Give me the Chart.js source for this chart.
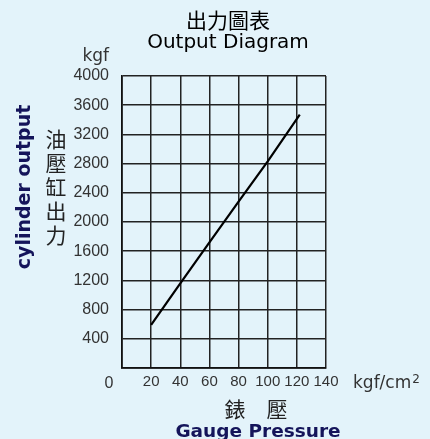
<!DOCTYPE html>
<html>
<head>
<meta charset="utf-8">
<script src="https://cdn.jsdelivr.net/npm/chart.js@4/dist/chart.umd.min.js"></script>
<style>
html,body{margin:0;padding:0;background:#e3f3fa;}
#wrap{width:430px;height:439px;position:relative;}
</style>
</head>
<body>
<div id="wrap"><canvas id="c" width="430" height="439"></canvas></div>
<script>
// Data
const pressure = [20, 40, 60, 80, 100, 122];          // kgf/cm²
const output = [590, 1160, 1720, 2280, 2830, 3470];    // kgf
const xTicks = [0, 20, 40, 60, 80, 100, 120, 140];
const yTicks = [0, 400, 800, 1200, 1600, 2000, 2400, 2800, 3200, 3600, 4000];
const titleLines = ['出力圖表', 'Output Diagram'];
const yUnit = 'kgf';
const xUnit = 'kgf/cm';
const yTitleZh = ['油', '壓', '缸', '出', '力'];
const yTitleEn = 'cylinder output';
const xTitleZh = '錶　壓';
const xTitleEn = 'Gauge Pressure';

const yTickFont = {family: "'Liberation Sans', sans-serif", size: 16};
const xTickFont = {family: "'Liberation Sans', sans-serif", size: 15};
const tickColor = '#333';
const navy = '#14145a';

const decor = {
  id: 'decor',
  afterDraw(chart) {
    const ctx = chart.ctx;
    const xs = chart.scales.x, ys = chart.scales.y;
    ctx.save();
    // titles
    ctx.fillStyle = '#000';
    ctx.textAlign = 'center';
    ctx.textBaseline = 'alphabetic';
    ctx.font = "21px 'Noto Sans CJK TC', sans-serif";
    ctx.fillText(titleLines[0], 228, 28);
    ctx.font = "20px 'DejaVu Sans', sans-serif";
    ctx.fillText(titleLines[1], 228, 48);
    // y unit
    ctx.fillStyle = tickColor;
    ctx.font = "17px 'DejaVu Sans', sans-serif";
    ctx.textAlign = 'right';
    ctx.fillText(yUnit, 109, 61);
    // x unit
    ctx.textAlign = 'left';
    const ux = xs.right + 27;
    const uy = ys.bottom + 20;
    ctx.fillText(xUnit, ux, uy);
    const w = ctx.measureText(xUnit).width;
    ctx.font = "12px 'DejaVu Sans', sans-serif";
    ctx.fillText('2', ux + w + 1, uy - 5);
    // corner zero
    ctx.font = "16px 'Liberation Sans', sans-serif";
    ctx.textAlign = 'center';
    ctx.fillText('0', xs.getPixelForValue(0) - 13, ys.bottom + 20);
    // vertical chinese y title
    ctx.fillStyle = '#222';
    ctx.font = "21px 'Noto Sans CJK TC', sans-serif";
    ctx.textAlign = 'center';
    ctx.textBaseline = 'middle';
    yTitleZh.forEach((ch, i) => ctx.fillText(ch, 56, 139 + i * 24));
    // english rotated y title
    ctx.save();
    ctx.translate(25, 187);
    ctx.rotate(-Math.PI / 2);
    ctx.fillStyle = navy;
    ctx.font = "bold 19px 'DejaVu Sans', sans-serif";
    ctx.textAlign = 'center';
    ctx.textBaseline = 'middle';
    ctx.fillText(yTitleEn, 0, 0);
    ctx.restore();
    // x titles
    ctx.fillStyle = '#222';
    ctx.textAlign = 'center';
    ctx.textBaseline = 'alphabetic';
    ctx.font = "21px 'Noto Sans CJK TC', sans-serif";
    ctx.fillText(xTitleZh, 256, 417);
    ctx.fillStyle = navy;
    ctx.font = "bold 18.5px 'DejaVu Sans', sans-serif";
    ctx.fillText(xTitleEn, 258, 437);
    ctx.restore();
  }
};

new Chart(document.getElementById('c'), {
  type: 'scatter',
  data: {
    datasets: [{
      data: pressure.map((p, i) => ({x: p, y: output[i]})),
      showLine: true,
      borderColor: '#000',
      borderWidth: 2.2,
      pointRadius: 0,
      tension: 0
    }]
  },
  options: {
    responsive: false,
    animation: false,
    layout: {padding: {left: 0, right: 104, top: 76, bottom: 0}},
    plugins: {legend: {display: false}, tooltip: {enabled: false}},
    scales: {
      x: {
        type: 'linear', min: 0, max: 140,
        afterBuildTicks: s => { s.ticks = xTicks.map(v => ({value: v})); },
        afterFit: s => { s.height = 71; },
        grid: {color: '#222', lineWidth: 1.5, drawTicks: false},
        border: {color: '#111', width: 1.7},
        ticks: {
          padding: 5, color: tickColor, font: xTickFont, maxRotation: 0, autoSkip: false,
          callback: v => v === 0 ? '' : String(v)
        }
      },
      y: {
        type: 'linear', min: 0, max: 4000,
        afterBuildTicks: s => { s.ticks = yTicks.map(v => ({value: v})); },
        afterFit: s => { s.width = 122; },
        grid: {color: '#222', lineWidth: 1.5, drawTicks: false},
        border: {color: '#111', width: 1.7},
        ticks: {
          padding: 13, color: tickColor, font: yTickFont, autoSkip: false,
          callback: v => v === 0 ? '' : String(v)
        }
      }
    }
  },
  plugins: [decor]
});
</script>
</body>
</html>
